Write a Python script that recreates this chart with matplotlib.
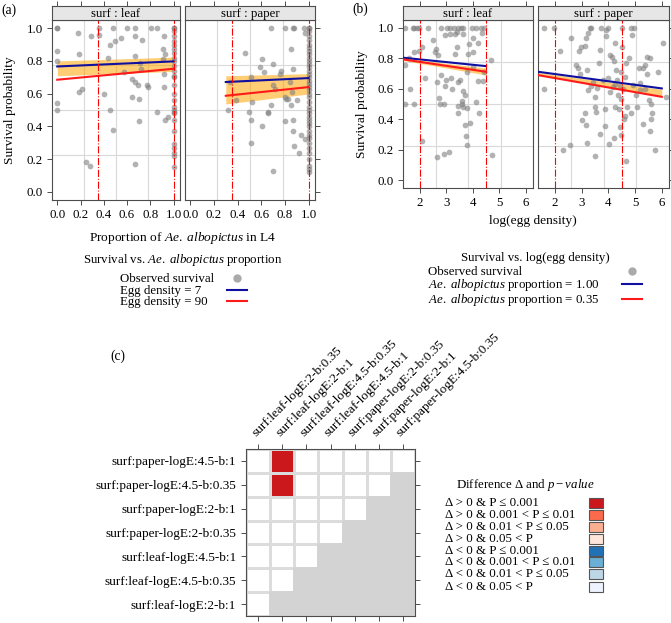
import numpy as np
import matplotlib.pyplot as plt
from matplotlib.lines import Line2D
from matplotlib.patches import Rectangle
from matplotlib.colors import ListedColormap

plt.rcParams['font.family'] = ['Liberation Serif', 'DejaVu Serif']
plt.rcParams['font.size'] = 9
plt.rcParams['mathtext.fontset'] = 'custom'
plt.rcParams['mathtext.rm'] = 'Liberation Serif'
plt.rcParams['mathtext.it'] = 'Liberation Serif:italic'

# ---------------- data: panel (a) survival vs proportion ----------------
a_leaf_x = [0, 0, 0, 0, 0, 0, 0.18, 0.19, 0.19, 0.21, 0.25, 0.28, 0.29, 0.36, 0.36, 0.40,
            0.44, 0.45, 0.45, 0.48, 0.48, 0.50, 0.55, 0.57, 0.60, 0.64, 0.64, 0.67, 0.67,
            0.67, 0.67, 0.67, 0.69, 0.70, 0.70, 0.71, 0.72, 0.73, 0.77, 0.78, 0.81, 0.86,
            0.86, 0.91, 0.92, 0.92, 0.92, 0.93, 0.95, 0.91, 0.93]
a_leaf_y = [1.0, 1.0, 0.86, 0.80, 0.54, 0.50, 0.97, 0.84, 0.61, 0.63, 0.18, 0.16, 0.95, 1.0,
            0.96, 0.60, 0.82, 0.90, 0.50, 1.0, 0.38, 0.92, 0.94, 0.73, 1.0, 0.58, 0.69, 1.0,
            0.95, 0.83, 0.67, 0.17, 0.65, 0.57, 0.43, 0.79, 0.75, 0.93, 0.65, 0.64, 1.0, 1.0,
            0.49, 0.87, 0.95, 0.72, 0.64, 0.44, 0.46, 0.81, 0.84]
# observations with proportion = 1.0
a_leaf_full_y = [1.0, 1.0, 0.98, 0.95, 0.92, 0.90, 0.87, 0.85, 0.82, 0.80, 0.77, 0.74, 0.71,
                 0.70, 0.65, 0.60, 0.56, 0.52, 0.50, 0.49, 0.48, 0.44, 0.37, 0.29, 0.27,
                 0.24, 0.22, 0.15]

a_paper_x = [0.32, 0.34, 0.39, 0.46, 0.50, 0.51, 0.51, 0.51, 0.52, 0.59, 0.61, 0.61, 0.62,
             0.66, 0.66, 0.68, 0.68, 0.70, 0.70, 0.70, 0.72, 0.76, 0.77, 0.80, 0.80, 0.80,
             0.81, 0.83, 0.84, 0.85, 0.85, 0.86, 0.87, 0.88, 0.87, 0.87, 0.87, 0.88, 0.90,
             0.92, 0.94, 0.96, 0.97, 0.97]
a_paper_y = [0.50, 0.67, 0.56, 0.85, 0.49, 0.44, 0.30, 0.70, 0.55, 0.76, 0.81, 0.40, 0.73,
             0.48, 0.49, 1.0, 0.53, 0.13, 0.78, 0.65, 0.63, 0.72, 0.74, 1.0, 0.58, 0.43,
             0.57, 0.57, 0.67, 0.87, 0.53, 0.61, 1.0, 1.0, 0.75, 0.44, 0.37, 0.28, 0.56,
             0.24, 0.35, 1.0, 0.97, 0.32]
a_paper_full_y = [1.0, 1.0, 0.98, 0.95, 0.93, 0.90, 0.88, 0.86, 0.84, 0.82, 0.80, 0.78,
                  0.76, 0.74, 0.72, 0.70, 0.68, 0.66, 0.64, 0.62, 0.60, 0.58, 0.55, 0.52,
                  0.50, 0.48, 0.46, 0.44, 0.42, 0.40, 0.37, 0.35, 0.33, 0.30, 0.27, 0.24,
                  0.20, 0.16, 0.14, 0.12]

a_leaf_fit_x = [0.0, 1.0]
a_leaf_blue = [0.766, 0.797]
a_leaf_red = [0.685, 0.752]
a_leaf_hi = [0.800, 0.823]
a_leaf_lo = [0.709, 0.736]
a_paper_fit_x = [0.30, 1.0]
a_paper_blue = [0.671, 0.695]
a_paper_red = [0.587, 0.640]
a_paper_hi = [0.709, 0.722]
a_paper_lo = [0.537, 0.598]

# ---------------- data: panel (b) survival vs log(egg density) ----------------
b_leaf_x = [1.43, 1.43, 1.43, 1.63, 1.61, 1.75, 1.80, 1.90, 1.96, 1.80, 1.80, 1.96, 2.09,
            2.09, 2.21, 2.31, 2.50, 2.56, 2.63, 2.65, 2.65, 2.69, 2.71, 2.78, 2.81, 2.81,
            2.90, 2.90, 2.94, 2.96, 3.00, 3.03, 3.09, 3.13, 3.15, 3.18, 3.21, 3.28, 3.34,
            3.34, 3.40, 3.40, 3.43, 3.44, 3.44, 3.46, 3.53, 3.56, 3.59, 3.61, 3.63, 3.65,
            3.65, 3.65, 3.69, 3.71, 3.75, 3.78, 3.78, 3.80, 3.81, 3.84, 3.90, 3.96, 4.00,
            4.00, 4.00, 4.11, 4.11, 4.18, 4.19, 4.24, 4.30, 4.34, 4.38, 4.43, 4.43, 4.69,
            4.74]
b_leaf_y = [1.0, 0.755, 0.50, 0.60, 0.80, 1.0, 1.0, 1.0, 1.0, 0.84, 0.50, 0.85, 0.875,
            0.26, 0.67, 1.0, 0.92, 0.84, 0.86, 0.645, 0.15, 0.82, 0.54, 0.50, 1.0, 0.69,
            0.50, 0.175, 0.95, 0.62, 0.66, 1.0, 0.185, 0.96, 1.0, 0.667, 0.60, 1.0, 0.825,
            0.956, 0.97, 0.875, 0.645, 0.44, 0.486, 1.0, 0.656, 1.0, 0.50, 0.52, 0.586, 1.0,
            0.956, 0.48, 0.56, 0.365, 0.29, 0.475, 0.23, 0.71, 0.83, 0.89, 0.376, 1.0,
            0.934, 0.842, 0.744, 0.514, 1.0, 0.65, 0.897, 0.438, 1.0, 0.963, 0.65, 1.0,
            0.711, 0.788, 0.164]

b_paper_x = [1.61, 1.61, 1.96, 2.21, 2.30, 2.55, 2.61, 2.78, 2.86, 2.90, 2.95, 2.99, 3.03,
             3.11, 3.14, 3.15, 3.18, 3.20, 3.24, 3.20, 3.24, 3.30, 3.36, 3.43, 3.49, 3.51,
             3.51, 3.55, 3.59, 3.65, 3.70, 3.70, 3.71, 3.80, 3.86, 3.86, 3.90, 3.93, 3.99,
             3.99, 4.01, 4.05, 4.15, 4.20, 4.18, 4.21, 4.24, 4.24, 4.26, 4.30, 4.33, 4.36,
             4.39, 4.43, 4.46, 4.46, 4.49, 4.51, 4.53, 4.55, 4.58, 4.61, 4.61, 4.65, 4.68,
             4.71, 4.78, 4.84, 4.86, 4.90, 4.93, 4.96, 5.03, 5.09, 5.14, 5.18, 5.28, 5.30,
             5.36, 5.36, 5.43, 5.46, 5.53, 5.55, 5.55, 5.59, 5.61, 5.65, 5.74, 5.86, 6.03,
             6.15, 4.43, 3.35, 4.05, 5.20]
b_paper_y = [1.0, 0.60, 1.0, 0.847, 0.20, 0.23, 0.93, 0.755, 0.737, 0.847, 0.694, 0.875,
             0.394, 0.88, 0.438, 0.365, 0.93, 0.722, 0.59, 0.245, 0.963, 1.0, 1.0, 0.645,
             0.547, 0.48, 0.158, 0.45, 0.608, 0.77, 0.853, 0.306, 1.0, 0.66, 0.47, 0.354,
             0.985, 0.945, 1.0, 0.667, 0.24, 0.82, 0.81, 0.78, 0.613, 0.28, 0.897, 0.628,
             0.48, 0.722, 0.656, 0.558, 0.47, 0.35, 0.711, 0.536, 0.295, 1.0, 0.875, 0.60,
             0.405, 0.42, 0.674, 0.125, 0.766, 0.48, 0.80, 1.0, 0.438, 0.952, 0.624, 1.0,
             0.562, 0.48, 0.733, 0.635, 0.737, 0.367, 0.755, 0.60, 0.805, 0.696, 0.525,
             0.324, 0.803, 0.405, 0.497, 0.438, 0.20, 0.71, 0.897, 0.547, 0.62, 0.62, 0.58,
             0.59]

b_leaf_fit_x = [1.38, 4.5]
b_leaf_blue = [0.803, 0.748]
b_leaf_red = [0.792, 0.711]
b_leaf_hi = [0.800, 0.735]
b_leaf_lo = [0.785, 0.690]
b_paper_fit_x = [1.37, 6.0]
b_paper_blue = [0.711, 0.602]
b_paper_red = [0.689, 0.547]
b_paper_hi = [0.706, 0.596]
b_paper_lo = [0.690, 0.550]

# ---------------- data: panel (c) pairwise comparisons ----------------
col_labels = ['surf:leaf-logE:2-b:0.35', 'surf:leaf-logE:2-b:1', 'surf:leaf-logE:4.5-b:0.35',
              'surf:leaf-logE:4.5-b:1', 'surf:paper-logE:2-b:0.35', 'surf:paper-logE:2-b:1',
              'surf:paper-logE:4.5-b:0.35']
row_labels = ['surf:paper-logE:4.5-b:1', 'surf:paper-logE:4.5-b:0.35', 'surf:paper-logE:2-b:1',
              'surf:paper-logE:2-b:0.35', 'surf:leaf-logE:4.5-b:1', 'surf:leaf-logE:4.5-b:0.35',
              'surf:leaf-logE:2-b:1']
N = np.nan
# 1 = Delta>0 & P<=0.001, 0 = not significant, nan = no comparison
cell_code = [[0, 1, 0, 0, 0, 0, 0],
             [0, 1, 0, 0, 0, 0, N],
             [0, 0, 0, 0, 0, N, N],
             [0, 0, 0, 0, N, N, N],
             [0, 0, 0, N, N, N, N],
             [0, 0, N, N, N, N, N],
             [0, N, N, N, N, N, N]]
legend_labels = ['Δ > 0 & P ≤ 0.001', 'Δ > 0 & 0.001 < P ≤ 0.01', 'Δ > 0 & 0.01 < P ≤ 0.05',
                 'Δ > 0 & 0.05 < P', 'Δ < 0 & P ≤ 0.001', 'Δ < 0 & 0.001 < P ≤ 0.01',
                 'Δ < 0 & 0.01 < P ≤ 0.05', 'Δ < 0 & 0.05 < P']
legend_colors = ['#CB181D', '#FB6A4A', '#FCAE91', '#FEE5D9',
                 '#2171B5', '#6BAED6', '#BDD7E7', '#EFF3FF']

W, H = 671, 623
fig = plt.figure(figsize=(W / 100, H / 100), dpi=100)
FRAME = '#4D4D4D'
BLUE = '#1010A0'
RED = '#FF1A1A'
PT = '#7F7F7F'
NA_GREY = '#D3D3D3'
FS = 9.3


def px_axes(x0, y0, x1, y1):
    return fig.add_axes([x0 / W, 1 - y1 / H, (x1 - x0) / W, (y1 - y0) / H])


def fx(x):
    return x / W


def fy(y):
    return 1 - y / H


def panel(x0, x1, top, bottom, xlim, xticks, xfmt, strip, first, vlines):
    ax = px_axes(x0, top, x1, bottom)
    st = px_axes(x0, top - 14, x1, top)
    ylim = (-0.05, 1.05)
    ax.set_xlim(xlim)
    ax.set_ylim(ylim)
    for i in (1, 2, 3):
        ax.axvline(xlim[0] + i * (xlim[1] - xlim[0]) / 4, color='#D9D9D9', lw=0.8, zorder=0)
        ax.axhline(ylim[0] + i * (ylim[1] - ylim[0]) / 4, color='#D9D9D9', lw=0.8, zorder=0)
    for v in vlines:
        ax.axvline(v, color='red', lw=0.8, ls='-.', zorder=5)
    ax.set_xticks(xticks)
    ax.set_xticklabels([xfmt.format(t) for t in xticks])
    ax.set_yticks([0, 0.2, 0.4, 0.6, 0.8, 1.0])
    ax.set_yticklabels(['0.0', '0.2', '0.4', '0.6', '0.8', '1.0'])
    ax.tick_params(direction='out', length=3.5, color=FRAME, width=0.7, labelsize=FS,
                   left=first, labelleft=first, right=not first, pad=3)
    for s in ax.spines.values():
        s.set_color(FRAME)
        s.set_linewidth(0.8)
    st.set_facecolor('#E6E6E6')
    st.set_xlim(xlim)
    st.set_yticks([])
    st.set_xticks(xticks)
    st.tick_params(axis='x', bottom=False, labelbottom=False, top=True, direction='out',
                   length=3.5, color=FRAME, width=0.7)
    for s in st.spines.values():
        s.set_color(FRAME)
        s.set_linewidth(0.8)
    st.text(0.5, 0.45, strip, transform=st.transAxes, ha='center', va='center', fontsize=FS)
    return ax


def draw(ax, px, py, fit_x, blue, red, hi, lo):
    ax.fill_between(fit_x, lo, hi, color='#FFA500', alpha=0.55, lw=0, zorder=1)
    ax.scatter(px, py, s=17, color=PT, alpha=0.6, lw=0, zorder=2)
    ax.plot(fit_x, blue, color=BLUE, lw=1.5, zorder=3)
    ax.plot(fit_x, red, color=RED, lw=1.5, zorder=3)


def key_legend(title, title_xy, labels, text_x, ys, keys, key_x):
    fig.text(fx(title_xy[0]), fy(title_xy[1]), title, ha='center', va='center', fontsize=FS)
    for lab, y, k in zip(labels, ys, keys):
        fig.text(fx(text_x), fy(y), lab, ha='left', va='center', fontsize=FS)
        if k == 'point':
            fig.add_artist(Line2D([fx(key_x)], [fy(y - 1)], marker='o', ls='none',
                                  color='#AAAAAA', markersize=5, transform=fig.transFigure))
        elif k in legend_colors:
            fig.add_artist(Rectangle((fx(key_x - 7), fy(y + 5)), 14 / W, 10 / H,
                                     facecolor=k, edgecolor='#555555', lw=0.8,
                                     transform=fig.transFigure))
        else:
            fig.add_artist(Line2D([fx(key_x - 10), fx(key_x + 10)], [fy(y - 1), fy(y - 1)],
                                  color=k, lw=1.5, transform=fig.transFigure))


# panel (a)
a_ticks = [0.0, 0.2, 0.4, 0.6, 0.8, 1.0]
a_xlim = (-0.045, 1.055)
ax1 = panel(52, 180, 20, 200, a_xlim, a_ticks, '{:.1f}', 'surf : leaf', True, [0.35, 1.0])
ax2 = panel(185, 315, 20, 200, a_xlim, a_ticks, '{:.1f}', 'surf : paper', False, [0.35, 1.0])
draw(ax1, a_leaf_x + [1.0] * len(a_leaf_full_y), a_leaf_y + a_leaf_full_y,
     a_leaf_fit_x, a_leaf_blue, a_leaf_red, a_leaf_hi, a_leaf_lo)
draw(ax2, a_paper_x + [1.0] * len(a_paper_full_y), a_paper_y + a_paper_full_y,
     a_paper_fit_x, a_paper_blue, a_paper_red, a_paper_hi, a_paper_lo)

# panel (b)
b_ticks = [2, 3, 4, 5, 6]
b_xlim = (1.37, 6.27)
ax3 = panel(403, 533, 20, 188, b_xlim, b_ticks, '{}', 'surf : leaf', True, [2, 4.5])
ax4 = panel(538, 669, 20, 188, b_xlim, b_ticks, '{}', 'surf : paper', False, [2, 4.5])
draw(ax3, b_leaf_x, b_leaf_y, b_leaf_fit_x, b_leaf_blue, b_leaf_red, b_leaf_hi, b_leaf_lo)
draw(ax4, b_paper_x, b_paper_y, b_paper_fit_x, b_paper_blue, b_paper_red, b_paper_hi,
     b_paper_lo)

fig.text(fx(1), fy(10), '(a)', ha='left', va='center', fontsize=FS + 0.5)
fig.text(fx(352), fy(9), '(b)', ha='left', va='center', fontsize=FS + 0.5)
fig.text(fx(110), fy(356), '(c)', ha='left', va='center', fontsize=FS + 0.5)
fig.text(fx(10), fy(110), 'Survival probability', rotation=90, ha='center', va='center',
         fontsize=FS + 0.3)
fig.text(fx(362), fy(104), 'Survival probability', rotation=90, ha='center', va='center',
         fontsize=FS + 0.3)
fig.text(fx(183), fy(238), r'Proportion of $\mathit{Ae.\ albopictus}$ in L4', ha='center',
         va='center', fontsize=FS + 0.3)
fig.text(fx(533), fy(221), 'log(egg density)', ha='center', va='center', fontsize=FS + 0.3)

key_legend(r'Survival vs. $\mathit{Ae.\ albopictus}$ proportion', (183, 260),
           ['Observed survival', 'Egg density = 7', 'Egg density = 90'],
           120, [279, 291, 302], ['point', BLUE, RED], 237)
key_legend('Survival vs. log(egg density)', (535, 258),
           ['Observed survival', r'$\mathit{Ae.\ albopictus}$ proportion = 1.00',
            r'$\mathit{Ae.\ albopictus}$ proportion = 0.35'],
           428, [272, 285, 300], ['point', BLUE, RED], 632)

# panel (c)
axc = px_axes(246, 449, 415, 616)
codes = np.array(cell_code, dtype=float)
na = np.isnan(codes)
codes = np.where(na, 2, codes)
cmap = ListedColormap(['white', '#CB181D', NA_GREY])
mesh = axc.pcolormesh(np.arange(8), np.arange(8), codes, cmap=cmap, vmin=0, vmax=2,
                      linewidth=0.8)
mesh.set_edgecolor([NA_GREY if m else '#DCDCDC' for m in na.ravel()])
axc.set_xlim(0, 7)
axc.set_ylim(7, 0)
axc.set_xticks(np.arange(7) + 0.5)
axc.set_yticks(np.arange(7) + 0.5)
axc.set_yticklabels(row_labels)
axc.xaxis.tick_top()
axc.set_xticklabels(col_labels, rotation=45, ha='left', rotation_mode='anchor')
axc.tick_params(direction='out', length=3.5, color=FRAME, width=0.7, labelsize=9.5,
                bottom=True, right=True, top=True, left=True)
for s in axc.spines.values():
    s.set_color(FRAME)
    s.set_linewidth(0.8)

key_legend(r'Difference Δ and $\mathit{p-value}$', (525, 485), legend_labels, 445,
           [503, 515, 527, 539, 551, 562, 574, 587], legend_colors, 596)

fig.savefig('out.png', dpi=100)
